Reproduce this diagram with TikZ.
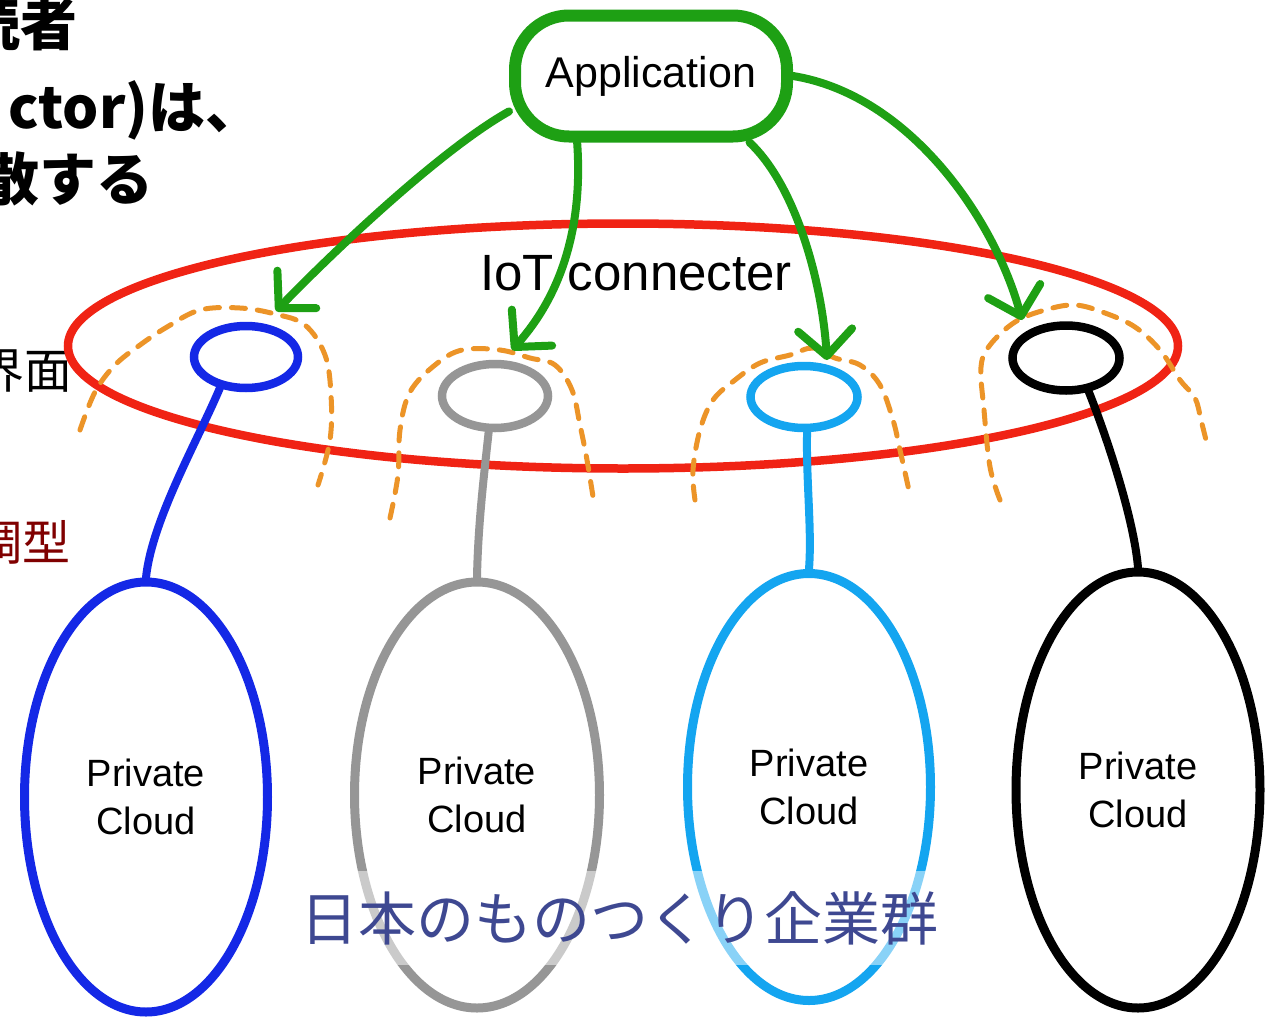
\documentclass[tikz,border=0pt]{standalone}
\usepackage{fontspec}
\setmainfont{Liberation Sans}
\newfontfamily\jp{Noto Sans CJK JP}
\usetikzlibrary{shapes.geometric,arrows.meta}

\definecolor{appgreen}{RGB}{30,160,20}
\definecolor{ringred}{RGB}{240,35,20}
\definecolor{archorange}{RGB}{236,148,40}
\definecolor{cblue}{RGB}{20,40,230}
\definecolor{cgray}{RGB}{150,150,150}
\definecolor{clight}{RGB}{20,165,240}
\definecolor{navy}{RGB}{62,72,145}
\definecolor{darkred}{RGB}{128,0,0}

\begin{document}
\begin{tikzpicture}[x=1pt,y=-1pt,
  cloud/.style={ellipse, draw, line width=9pt, inner sep=0pt, align=center,
    font=\fontsize{38}{48}\selectfont},
  port/.style={ellipse, draw, fill=white, line width=8.5pt, inner sep=0pt},
  link/.style={line width=8pt, line cap=round},
  arch/.style={archorange, line width=5pt, dash pattern=on 14pt off 12pt,
    line cap=round},
  call/.style={appgreen, line width=8pt, line cap=round, line join=round,
    -{Straight Barb[length=26pt,width=54pt,round]}},
  appbox/.style={draw=appgreen, fill=white, line width=12pt, rounded corners=54pt,
    minimum width=272pt, minimum height=121pt, inner sep=0pt,
    font=\fontsize{43}{50}\selectfont},
  heading/.style={anchor=base east, font=\jp\bfseries\fontsize{57}{60}\selectfont},
  side/.style={anchor=base east, font=\jp\fontsize{48}{52}\selectfont}
]
\useasboundingbox (0,0) rectangle (1272,1020);
\clip (0,0) rectangle (1272,1020);
\fill[white] (0,0) rectangle (1272,1020);

% text of the slide underneath
\node[heading] (h1) at (81,45) {読者};
\node[heading] (h2) at (266,128) {ctor)は、};
\node[heading] (h3) at (157,200) {散する};
\node[side] (s1) at (76,388) {界面};
\node[side, text=darkred] (s2) at (74,560) {調型};

% IoT connector ring
\node[ellipse, draw=ringred, line width=8.5pt, minimum width=1110pt,
      minimum height=245pt, inner sep=0pt] (ring) at (623,346) {};

% dashed reach of each connector port
\draw[arch] plot[smooth, tension=0.6] coordinates {(80,430) (95,392) (115,365)
  (140,345) (167,327) (200,310) (240,308) (275,314) (305,325) (325,355)
  (331,395) (330,440) (318,485)};
\draw[arch] plot[smooth, tension=0.6] coordinates {(390,518) (398,475) (400,430)
  (410,392) (435,365) (462,350) (500,350) (530,358) (555,365) (572,390)
  (580,425) (587,460) (594,503)};
\draw[arch] plot[smooth, tension=0.6] coordinates {(695,500) (693,470) (700,430)
  (713,400) (735,380) (760,363) (790,355) (813,348) (835,358) (860,365)
  (880,385) (893,420) (900,450) (910,495)};
\draw[arch] plot[smooth, tension=0.6] coordinates {(1000,500) (990,467) (984,410)
  (981,367) (990,345) (1015,322) (1045,310) (1075,305) (1105,313) (1135,327)
  (1160,350) (1180,380) (1195,398) (1201,420) (1206,440)};

\node at (636,273.5) (lbl) {\fontsize{51}{56}\selectfont IoT connecter};

% ports
\node[port, draw=cblue,  minimum width=104pt, minimum height=62pt] (p1) at (246,357) {};
\node[port, draw=cgray,  minimum width=106pt, minimum height=64pt] (p2) at (495,396) {};
\node[port, draw=clight, minimum width=107pt, minimum height=62pt] (p3) at (804,397) {};
\node[port, draw=black,  minimum width=107pt, minimum height=65pt] (p4) at (1066,358) {};

% private clouds
\node[cloud, draw=cblue,  minimum width=243pt, minimum height=430pt] (bc1) at (146,797) {Private\\Cloud};
\node[cloud, draw=cgray,  minimum width=245pt, minimum height=426pt] (bc2) at (477,795) {Private\\Cloud};
\node[cloud, draw=clight, minimum width=243pt, minimum height=427pt] (bc3) at (809,787) {Private\\Cloud};
\node[cloud, draw=black,  minimum width=244pt, minimum height=436pt] (bc4) at (1138,790) {Private\\Cloud};

% port to cloud links
\draw[link, cblue]  (p1.-130) .. controls (198,440) and (152,520) .. (bc1.north);
\draw[link, cgray]  (p2.-100) .. controls (484,475) and (478,525) .. (bc2.north);
\draw[link, clight] (p3.-85)  .. controls (806,480) and (812,530) .. (bc3.north);
\draw[link, black]  (p4.-56)  .. controls (1108,440) and (1134,520) .. (bc4.north);

% application and its calls
\node[appbox] (app) at (651,76) {\raisebox{-4pt}{Application}};
\coordinate (t1) at (276,311);
\coordinate (t2) at (512,350);
\coordinate (t3) at (827,360);
\coordinate (t4) at (1022,320);
\draw[call] (app.194) .. controls (440,150) and (330,255) .. (t1);
\draw[call] (app.-138) .. controls (582,210) and (570,285) .. (t2);
\draw[call] (app.-34) .. controls (795,185) and (822,280) .. (t3);
\draw[call] (app.east) .. controls (910,95) and (995,220) .. (t4);

% caption over the clouds
\node[fill=white, fill opacity=0.5, text opacity=1, text=navy, inner xsep=8pt,
      inner ysep=20pt, font=\jp\fontsize{58}{60}\selectfont] (maker) at (619,918)
      {日本のものつくり企業群};
\end{tikzpicture}
\end{document}
